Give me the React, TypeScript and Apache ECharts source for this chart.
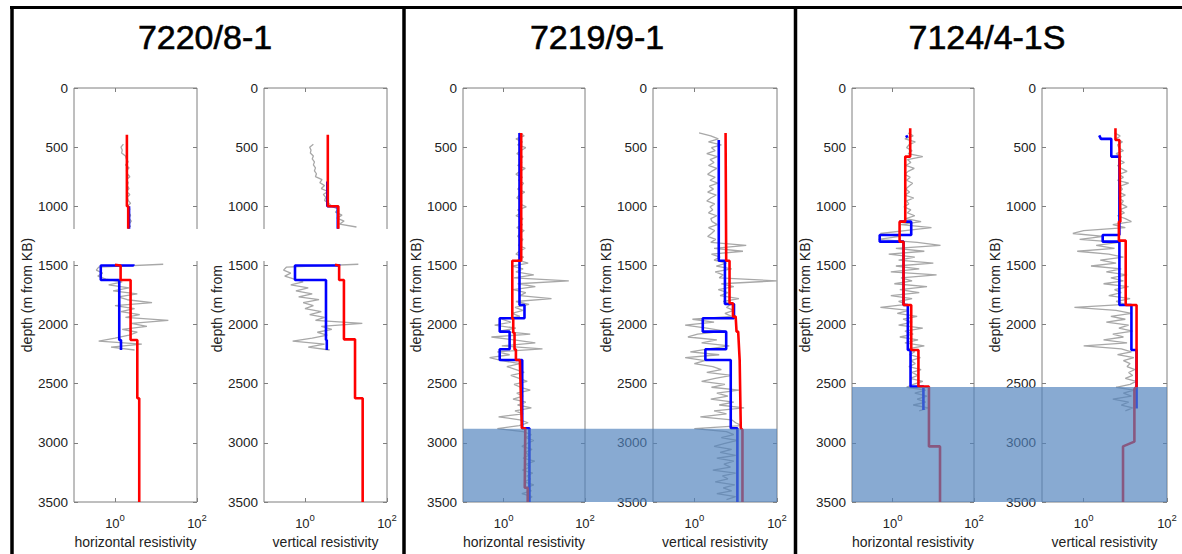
import React, { useEffect, useRef } from 'react';
import * as echarts from 'echarts';

// ---------- layout / labels ----------
const WELLS = ['7220/8-1', '7219/9-1', '7124/4-1S'];
const X_NAMES = ['horizontal resistivity', 'vertical resistivity'];
const Y_NAME = 'depth (m from KB)';
const DEPTH_MIN = 0;
const DEPTH_MAX = 3500;
const DEPTH_INTERVAL = 500;
const RES_MIN = 0.1;
const RES_MAX = 100;
const X_LABEL_EXPONENTS = [0, 2];
const X_TOP_TICK_EXPONENTS = [0];
const SAMPLE_STEP = 25; // depth spacing of the gray log samples (m)
// depth at which the shaded (blue) zone starts, per well
const SHADE_TOP = [null, 2880, 2528];
// depth gap with no data in well 7220/8-1
const GAP_DEPTHS = [1192, 1462];

// ---------- 7220/8-1 horizontal ----------
const p1hGrayTop = [1.6, 1.4, 1.5, 1.45, 1.8, 1.9, 2.1, 1.8, 2.2, 1.9, 2.0, 2.3, 1.9, 2.1, 2.0, 2.2, 1.9, 2.3, 2.0, 2.1, 2.4, 2.0, 2.3, 2.1, 2.4, 2.2, 2.5, 2.2, 2.4];
const p1hGrayBottom = [15, 0.4, 0.35, 0.5, 0.38, 0.6, 1.5, 0.7, 2.2, 0.9, 3.5, 1.2, 2.0, 8, 1.0, 3.0, 1.4, 4.0, 1.8, 20, 2.5, 6, 1.5, 3.5, 2.2, 1.0, 0.4, 4.5, 0.8, 3.0];
const p1hRedTop = [[1.95, 395], [1.95, 1000], [2.1, 1000], [2.1, 1190]];
const p1hBlueTop = [[2.2, 1000], [2.2, 1190]];
const p1hRedBottom = [[1.0, 1495], [1.37, 1500], [1.37, 1623], [2.4, 1623], [2.4, 2130], [3.5, 2130], [3.5, 2623], [3.9, 2623], [3.9, 3500]];
const p1hBlueBottom = [[2.8, 1490], [2.8, 1500], [0.45, 1500], [0.45, 1623], [1.27, 1623], [1.27, 2130], [1.4, 2130], [1.4, 2215]];

// ---------- 7220/8-1 vertical ----------
const p1vGrayTop = [1.6, 1.3, 1.4, 1.35, 1.6, 1.5, 1.7, 1.6, 1.8, 1.7, 1.9, 1.8, 2.6, 2.3, 3.0, 2.5, 3.6, 2.8, 3.2, 3.0, 3.8, 4.5, 6.5, 5.5, 8, 6.0, 9, 7, 18];
const p1vGrayBottom = [20, 0.35, 0.3, 0.45, 0.32, 0.55, 0.9, 0.45, 1.2, 0.6, 1.5, 0.7, 2.2, 0.9, 1.6, 1.0, 2.5, 1.3, 3.0, 1.8, 25, 2.5, 4.5, 2.0, 3.5, 1.5, 0.5, 3.0, 1.2, 4.0];
const p1vRedTop = [[3.6, 395], [3.6, 1000], [6.5, 1000], [6.5, 1190]];
const p1vBlueTop = [[3.5, 790], [3.5, 1000], [6.3, 1000], [6.3, 1190]];
const p1vRedBottom = [[5.4, 1495], [6.8, 1500], [6.8, 1623], [8.9, 1623], [8.9, 2125], [16.6, 2125], [16.6, 2623], [25.5, 2623], [25.5, 3500]];
const p1vBlueBottom = [[6.8, 1490], [6.8, 1500], [0.57, 1500], [0.57, 1623], [3.25, 1623], [3.25, 2130], [3.4, 2130], [3.4, 2215]];

// ---------- 7219/9-1 horizontal ----------
const p2hGray = [
  2.4, 3.2, 2.0, 2.9, 2.2, 3.5, 2.6, 2.1, 3.0, 2.4,
  2.8, 2.2, 3.4, 2.5, 2.0, 2.9, 2.3, 3.1, 2.6, 2.2,
  3.3, 2.4, 2.1, 2.8, 2.5, 3.6, 2.2, 2.7, 2.0, 3.0,
  2.4, 2.9, 2.1, 3.2, 2.5, 2.2, 3.0, 2.6, 2.3, 3.4,
  2.4, 2.0, 3.1, 2.2, 4.0, 1.6, 3.0, 2.0, 5.5, 1.8,
  40, 2.2, 6, 1.7, 3.5, 2.5, 15, 2.0, 4.2, 1.9,
  3.0, 1.6, 2.5, 0.9, 1.5, 0.6, 2.0, 0.8, 4.5, 0.5,
  1.8, 6, 0.9, 9, 0.7, 1.4, 0.45, 0.9, 2.5, 1.2,
  2.0, 3.2, 1.5, 2.4, 3.8, 1.8, 2.6, 4.5, 2.1, 3.0,
  1.7, 3.5, 2.2, 4.8, 1.9, 3.0, 0.75, 2.5, 4.0, 2.4,
  0.7, 3.0, 4.8, 3.5, 5.5, 3.8, 2.8, 5.0, 3.4, 4.2,
  3.0, 5.8, 3.6, 4.4, 2.9, 5.2, 3.7, 4.6, 3.2, 5.5,
  3.5, 4.8, 2.8, 5.0, 3.9,
];
const p2hRed = [[2.7, 380], [2.7, 1460], [1.63, 1460], [1.63, 1950], [1.72, 1950], [1.72, 2070], [1.85, 2070], [1.85, 2210], [2.0, 2210], [2.0, 2300], [2.5, 2300], [2.8, 2877], [3.4, 2877], [3.3, 3380], [3.9, 3380], [3.9, 3500]];
const p2hBlue = [[2.45, 380], [2.45, 1834], [3.25, 1834], [3.25, 1947], [0.8, 1947], [0.8, 2060], [1.4, 2060], [1.4, 2209], [0.8, 2209], [0.8, 2300], [2.86, 2300], [2.86, 2877], [4.3, 2877], [4.3, 3500]];

// ---------- 7219/9-1 vertical ----------
const p2vGray = [
  1.3, 2.5, 3.8, 2.2, 4.5, 2.6, 3.2, 2.0, 3.6, 2.4,
  3.0, 2.2, 3.5, 2.6, 2.1, 3.2, 2.4, 3.7, 2.3, 2.9,
  2.1, 3.4, 2.5, 2.0, 3.1, 2.4, 2.8, 2.2, 3.5, 2.5,
  2.7, 3.6, 2.2, 3.1, 2.6, 2.1, 3.3, 2.5, 18, 3.0,
  15, 2.6, 4.2, 3.0, 6, 3.4, 8, 3.2, 5.0, 4.0,
  100, 4.5, 9, 3.8, 6.5, 4.2, 12, 5.0, 7.5, 6.0,
  9, 5.5, 8, 0.9, 3.0, 0.6, 2.0, 5.5, 1.2, 0.7,
  3.5, 1.5, 7, 2.2, 0.8, 4.0, 0.6, 1.8, 1.0, 2.8,
  4.5, 2.0, 8, 3.2, 1.5, 5.5, 2.6, 12, 3.5, 6.5,
  2.5, 9, 4.0, 16, 3.0, 6.0, 1.4, 8, 10, 14,
  1.0, 6, 9, 4.5, 11, 5.5, 3.0, 8, 4.2, 10,
  3.5, 9, 5.2, 7.5, 2.8, 10, 4.8, 6.5, 3.2, 9.5,
  5.0, 8, 3.5, 10, 6.0,
];
const p2vRed = [[5.7, 380], [5.9, 1460], [7.1, 1460], [7.1, 1820], [8.6, 1820], [8.6, 1933], [10, 1933], [10.5, 2060], [11.5, 2060], [12.5, 2300], [13.3, 2877], [14.6, 2890], [14.6, 3500]];
const p2vBlue = [[3.9, 440], [3.9, 1460], [5.5, 1460], [5.5, 1826], [9.1, 1826], [9.1, 1947], [1.6, 1947], [1.6, 2060], [5.9, 2060], [5.9, 2209], [1.85, 2209], [1.85, 2300], [7.6, 2300], [7.6, 2877], [11, 2877], [11, 3500]];

// ---------- 7124/4-1S horizontal ----------
const p3hGray = [
  2.4, 3.2, 2.0, 3.6, 2.5, 2.2, 3.0, 2.4, 5.5, 2.3,
  2.8, 2.1, 3.4, 2.4, 2.0, 2.7, 2.2, 3.1, 2.5, 2.1,
  2.6, 2.0, 3.3, 2.2, 2.5, 1.9, 2.8, 2.3, 3.5, 2.1,
  5.0, 1.6, 9, 2.0, 0.5, 1.5, 0.45, 4.0, 15, 1.2,
  6, 0.8, 3.5, 1.4, 10, 1.2, 4.5, 0.9, 12, 1.6,
  3.0, 1.1, 7, 1.5, 4.5, 0.9, 3.0, 1.4, 2.2, 0.5,
  2.5, 1.3, 4.0, 1.8, 3.0, 1.4, 5.5, 2.0, 3.2, 1.5,
  4.2, 2.0, 6, 2.3, 3.5, 2.6, 4.8, 2.8, 3.6, 2.5,
  5.0, 3.0, 4.2, 2.7, 5.5, 3.2, 2.2, 6.5, 3.5, 7,
  4.0, 6.5, 3.2, 7.5, 4.5,
];
const p3hRed = [[2.7, 340], [2.7, 580], [2.04, 580], [2.04, 1130], [1.48, 1130], [1.48, 1300], [1.85, 1300], [1.85, 1834], [2.86, 1834], [2.86, 2215], [4.3, 2215], [4.3, 2525], [7.8, 2525], [7.8, 3030], [14.6, 3030], [14.6, 3500]];
const p3hBlueTop = [[2.15, 400], [2.3, 420]];
const p3hBlue = [[1.48, 1130], [2.86, 1130], [2.86, 1243], [0.48, 1243], [0.48, 1299], [1.85, 1299], [1.85, 1834], [2.36, 1834], [2.36, 2215], [2.75, 2215], [2.75, 2525], [5.7, 2525], [5.7, 2722]];

// ---------- 7124/4-1S vertical ----------
const p3vGray = [
  5.5, 7.5, 6.0, 8.5, 6.5, 7.0, 9, 6.0, 8.0, 7.0,
  9.5, 6.5, 8.0, 11, 7.0, 9.0, 6.5, 12, 7.5, 8.5,
  7.0, 10, 6.8, 9.0, 8.0, 11, 7.2, 9.5, 6.5, 10,
  14, 5, 10, 1.0, 0.55, 3.0, 0.8, 7, 2.0, 5.5,
  0.7, 4.0, 9, 2.5, 6, 1.5, 8, 3.5, 11, 4.5,
  9, 3.0, 12, 5.5, 8, 4.0, 13, 6, 10, 0.6,
  6, 14, 4.5, 10, 3.5, 12, 7, 15, 5.0, 9,
  3.0, 11, 1.0, 8, 14, 6.5, 16, 9, 13, 11,
  17, 12, 15, 10, 18, 13, 6.0, 16, 9, 14,
  5.0, 12, 8, 15, 10,
];
const p3vRed = [[5.8, 340], [5.8, 440], [7.2, 440], [7.6, 1130], [7.0, 1130], [7.0, 1290], [10.2, 1290], [10.2, 1834], [18.6, 1834], [18.6, 2525], [16.5, 2545], [16.5, 2990], [8.8, 3030], [8.8, 3500]];
const p3vBlue = [[2.36, 400], [2.6, 430], [4.6, 430], [4.6, 580], [7.2, 580], [7.2, 1243], [2.86, 1243], [2.86, 1299], [7.2, 1299], [7.2, 1834], [14, 1834], [14, 2215], [18.6, 2215], [18.6, 2710]];

type Sub = { gray: [number, number[]][]; red: number[][][]; blue: number[][][] };
const SUBPLOTS: Sub[] = [
  { gray: [[475, p1hGrayTop], [1490, p1hGrayBottom]], red: [p1hRedTop, p1hRedBottom], blue: [p1hBlueTop, p1hBlueBottom] },
  { gray: [[475, p1vGrayTop], [1490, p1vGrayBottom]], red: [p1vRedTop, p1vRedBottom], blue: [p1vBlueTop, p1vBlueBottom] },
  { gray: [[380, p2hGray]], red: [p2hRed], blue: [p2hBlue] },
  { gray: [[380, p2vGray]], red: [p2vRed], blue: [p2vBlue] },
  { gray: [[380, p3hGray]], red: [p3hRed], blue: [p3hBlueTop, p3hBlue] },
  { gray: [[380, p3vGray]], red: [p3vRed], blue: [p3vBlue] },
];

// grid placement (pixels)
const GRID_LEFT = [74, 264, 463, 653, 852, 1042];
const GRID_WIDTH = [123, 123, 122, 124, 122, 125];
const GRID_TOP = 88;
const GRID_HEIGHT = 414;

const FONT = '"Liberation Sans", Arial, Helvetica, sans-serif';
const AXIS_GRAY = '#7f7f7f';
const TEXT_COLOR = '#222';

export default function App() {
  const ref = useRef<HTMLDivElement>(null);
  useEffect(() => {
    const chart = echarts.init(ref.current!, null, { renderer: 'svg' });
    const grids: any[] = [];
    const xAxes: any[] = [];
    const yAxes: any[] = [];
    const series: any[] = [];

    SUBPLOTS.forEach((sp, g) => {
      grids.push({
        left: GRID_LEFT[g], top: GRID_TOP, width: GRID_WIDTH[g], height: GRID_HEIGHT,
        show: true, borderColor: AXIS_GRAY, borderWidth: 1, backgroundColor: 'transparent',
      });
      // data axis (log)
      xAxes.push({ type: 'log', logBase: 10, gridIndex: g, min: RES_MIN, max: RES_MAX, show: false, position: 'bottom', axisLine: { onZero: false } });
      // decoration bottom axis (exponents)
      xAxes.push({
        type: 'value', gridIndex: g, position: 'bottom', min: Math.log10(RES_MIN), max: Math.log10(RES_MAX),
        axisLine: { show: false, onZero: false }, splitLine: { show: false },
        axisTick: { show: true, inside: true, length: 4, customValues: X_LABEL_EXPONENTS, lineStyle: { color: AXIS_GRAY } },
        axisLabel: {
          customValues: X_LABEL_EXPONENTS, margin: 9,
          formatter: (v: number) => `{b|10}{s|${v}}`,
          rich: {
            b: { fontSize: 13, fontFamily: FONT, color: TEXT_COLOR, padding: [6, 0, 0, 0] },
            s: { fontSize: 9.5, fontFamily: FONT, color: TEXT_COLOR, padding: [0, 0, 7, 0] },
          },
        },
        name: X_NAMES[g % 2], nameLocation: 'middle', nameGap: 27,
        nameTextStyle: { fontSize: 14, fontFamily: FONT, color: TEXT_COLOR },
      });
      // decoration top axis
      xAxes.push({
        type: 'value', gridIndex: g, position: 'top', min: Math.log10(RES_MIN), max: Math.log10(RES_MAX),
        axisLine: { show: false, onZero: false }, splitLine: { show: false },
        axisTick: { show: true, inside: true, length: 4, customValues: X_TOP_TICK_EXPONENTS, lineStyle: { color: AXIS_GRAY } },
        axisLabel: { show: false },
      });
      yAxes.push({
        type: 'value', gridIndex: g, position: 'left', inverse: true,
        min: DEPTH_MIN, max: DEPTH_MAX, interval: DEPTH_INTERVAL,
        axisLine: { show: false, onZero: false }, splitLine: { show: false },
        axisTick: { show: true, inside: true, length: 4, lineStyle: { color: AXIS_GRAY } },
        axisLabel: { fontSize: 13.5, fontFamily: FONT, color: TEXT_COLOR, margin: 6, formatter: (v: number) => String(v) },
        name: Y_NAME, nameLocation: 'middle', nameGap: 36, nameRotate: 90,
        nameTextStyle: { fontSize: 14, fontFamily: FONT, color: TEXT_COLOR },
      });
      yAxes.push({
        type: 'value', gridIndex: g, position: 'right', inverse: true,
        min: DEPTH_MIN, max: DEPTH_MAX, interval: DEPTH_INTERVAL,
        axisLine: { show: false, onZero: false }, splitLine: { show: false },
        axisTick: { show: true, inside: true, length: 4, lineStyle: { color: AXIS_GRAY } },
        axisLabel: { show: false },
      });

      const base = { type: 'line', xAxisIndex: g * 3, yAxisIndex: g * 2, symbol: 'none', showSymbol: false, silent: true, clip: true };
      sp.gray.forEach(([start, values]) => {
        series.push({ ...base, z: 2, data: values.map((v, i) => [v, start + i * SAMPLE_STEP]), lineStyle: { color: '#a8a8a8', width: 1.3 } });
      });
      sp.blue.forEach((seg) => {
        series.push({ ...base, z: 3, data: seg, lineStyle: { color: '#0000ff', width: 2.6 } });
      });
      sp.red.forEach((seg) => {
        series.push({ ...base, z: 4, data: seg, lineStyle: { color: '#ff0000', width: 2.6 } });
      });
    });

    chart.setOption({
      animation: false,
      backgroundColor: '#ffffff',
      grid: grids,
      xAxis: xAxes,
      yAxis: yAxes,
      series,
    });

    const graphics: any[] = [];
    // panel frames
    graphics.push({ type: 'line', shape: { x1: 10, y1: 7.5, x2: 1182, y2: 7.5 }, style: { stroke: '#000', lineWidth: 3 }, z: 120 });
    [12, 404, 795.5].forEach((x) => {
      graphics.push({ type: 'line', shape: { x1: x, y1: 6, x2: x, y2: 554 }, style: { stroke: '#000', lineWidth: 3.5 }, z: 120 });
    });
    // titles
    const titleX = [205, 597, 987];
    WELLS.forEach((w, i) => {
      graphics.push({
        type: 'text', x: titleX[i], y: 37, z: 120,
        style: { text: w, font: `34px ${FONT}`, fill: '#000', align: 'center', verticalAlign: 'middle', textAlign: 'center', textVerticalAlign: 'middle', stroke: '#000', lineWidth: 0.6 },
      });
    });
    // white gap in well 7220/8-1
    const gy1 = chart.convertToPixel({ yAxisIndex: 0 } as any, GAP_DEPTHS[0]) as number;
    const gy2 = chart.convertToPixel({ yAxisIndex: 0 } as any, GAP_DEPTHS[1]) as number;
    graphics.push({ type: 'rect', shape: { x: 71, y: gy1, width: 327, height: gy2 - gy1 }, style: { fill: '#ffffff' }, z: 110 });
    // shaded zones
    SHADE_TOP.forEach((d, w) => {
      if (d == null) return;
      const gL = w * 2;
      const gR = w * 2 + 1;
      const yTop = chart.convertToPixel({ yAxisIndex: gL * 2 } as any, d) as number;
      const yBot = chart.convertToPixel({ yAxisIndex: gL * 2 } as any, DEPTH_MAX) as number;
      const xL = chart.convertToPixel({ xAxisIndex: gL * 3 } as any, RES_MIN) as number;
      const xR = chart.convertToPixel({ xAxisIndex: gR * 3 } as any, RES_MAX) as number;
      graphics.push({
        type: 'rect', shape: { x: xL, y: yTop, width: xR - xL, height: yBot - yTop },
        style: { fill: 'rgba(79,129,189,0.68)' }, z: 100,
      });
    });
    chart.setOption({ graphic: graphics });

    return () => chart.dispose();
  }, []);
  return <div ref={ref} style={{ position: 'fixed', left: 0, top: 0, width: 1182, height: 554, background: '#fff' }} />;
}
